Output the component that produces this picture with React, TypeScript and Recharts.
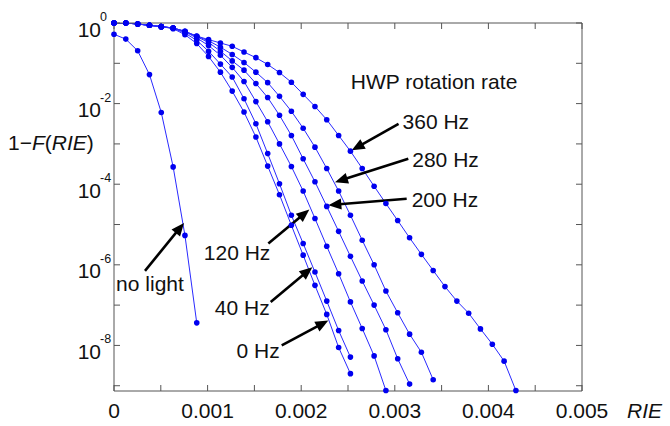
import React from "react";
import { LineChart, Line, XAxis, YAxis, ReferenceLine, ReferenceDot } from "recharts";

// RIE bins shared by every curve
const rie = [
  0, 0.000126, 0.000253, 0.000379, 0.000505, 0.000632, 0.000758, 0.000884, 0.00101, 0.001137,
  0.001263, 0.001389, 0.001516, 0.001642, 0.001768, 0.001895, 0.002021, 0.002147, 0.002273, 0.0024,
  0.002526, 0.002652, 0.002779, 0.002905, 0.003031, 0.003158, 0.003284, 0.00341, 0.003536, 0.003663,
  0.003789, 0.003915, 0.004042, 0.004168, 0.004294,
];

// log10 of 1-F(RIE)
const noLight = [-0.28, -0.4, -0.69, -1.28, -2.22, -3.57, -5.27, -7.44];
const hz0 = [0, 0, -0.025, -0.057, -0.09, -0.14, -0.29, -0.51, -0.83, -1.22, -1.69, -2.21, -2.83, -3.55, -4.26, -5.02, -5.76, -6.51, -7.23, -8.05, -8.7];
const hz40 = [0, 0, -0.025, -0.057, -0.09, -0.13, -0.25, -0.43, -0.7, -1.02, -1.34, -1.88, -2.5, -3.24, -3.99, -4.77, -5.47, -6.18, -6.9, -7.63, -8.29];
const hz120 = [0, 0, -0.025, -0.057, -0.09, -0.125, -0.22, -0.37, -0.56, -0.8, -1.1, -1.45, -1.95, -2.45, -3.0, -3.56, -4.17, -4.85, -5.54, -6.22, -6.92, -7.58, -8.26, -9.12];
const hz200 = [0, 0, -0.025, -0.057, -0.09, -0.124, -0.21, -0.34, -0.48, -0.7, -0.94, -1.17, -1.5, -1.85, -2.29, -2.79, -3.37, -3.94, -4.55, -5.17, -5.79, -6.4, -7.0, -7.61, -8.33, -8.96];
const hz280 = [0, 0, -0.025, -0.057, -0.09, -0.124, -0.206, -0.33, -0.44, -0.6, -0.78, -0.98, -1.22, -1.48, -1.82, -2.19, -2.61, -3.08, -3.61, -4.17, -4.77, -5.39, -6.0, -6.65, -7.19, -7.72, -8.17, -8.85];
const hz360 = [0, 0, -0.025, -0.057, -0.09, -0.124, -0.206, -0.323, -0.412, -0.496, -0.578, -0.72, -0.86, -1.03, -1.23, -1.47, -1.77, -2.07, -2.4, -2.79, -3.18, -3.61, -4.05, -4.48, -4.9, -5.33, -5.74, -6.14, -6.54, -6.9, -7.2, -7.59, -7.97, -8.39, -9.12];

const xTicks = [0, 0.0005, 0.001, 0.0015, 0.002, 0.0025, 0.003, 0.0035, 0.004, 0.0045, 0.005];
const xLabels = ["0", "0.001", "0.002", "0.003", "0.004", "0.005"];
const yTicks = [1, 1e-1, 1e-2, 1e-3, 1e-4, 1e-5, 1e-6, 1e-7, 1e-8, 1e-9];

const series = [
  { key: "noLight", values: noLight },
  { key: "hz0", values: hz0 },
  { key: "hz40", values: hz40 },
  { key: "hz120", values: hz120 },
  { key: "hz200", values: hz200 },
  { key: "hz280", values: hz280 },
  { key: "hz360", values: hz360 },
];

const data = rie.map((x, i) => {
  const row: Record<string, number | undefined> = { rie: x };
  series.forEach((s) => {
    row[s.key] = s.values[i] === undefined ? undefined : 10 ** s.values[i];
  });
  return row;
});

// arrows: tail -> tip in data coords (y as log10), text placed next to tail
const arrows = [
  { text: "360 Hz", from: [0.00304, -2.5], to: [0.00254, -3.16], anchor: "start", dx: 4, dy: 5 },
  { text: "280 Hz", from: [0.003144, -3.37], to: [0.002361, -3.95], anchor: "start", dx: 4, dy: 8 },
  { text: "200 Hz", from: [0.003127, -4.36], to: [0.00229, -4.52], anchor: "start", dx: 5, dy: 8 },
  { text: "120 Hz", from: [0.001649, -5.47], to: [0.002087, -4.63], anchor: "end", dx: 2, dy: 17 },
  { text: "40 Hz", from: [0.001674, -6.92], to: [0.002119, -6.06], anchor: "end", dx: -1, dy: 13 },
  { text: "0 Hz", from: [0.001792, -8.0], to: [0.00229, -7.38], anchor: "end", dx: -2, dy: 13 },
  { text: "no light", from: [0.000331, -6.15], to: [0.000748, -4.96], anchor: "middle", dx: 5, dy: 20 },
];

const FONT = "'Liberation Sans', Arial, Helvetica, sans-serif";
const FRAME = "#555";
const BLUE = "#0000f0";

const arrowShape = (a: any) => (p: any) => {
  const { x1, y1, x2, y2 } = p;
  const vx = x2 - x1;
  const vy = y2 - y1;
  const len = Math.hypot(vx, vy) || 1;
  const ux = vx / len;
  const uy = vy / len;
  const L = 13;
  const W = 5.5;
  const bx = x2 - ux * L;
  const by = y2 - uy * L;
  return (
    <g>
      <line x1={x1} y1={y1} x2={bx + ux * 2} y2={by + uy * 2} stroke="#000" strokeWidth={2.6} />
      <polygon
        points={`${x2},${y2} ${bx - uy * W},${by + ux * W} ${bx + uy * W},${by - ux * W}`}
        fill="#000"
      />
      <text x={x1 + a.dx} y={y1 + a.dy} textAnchor={a.anchor} fontSize={21} fontFamily={FONT} fill="#111">
        {a.text}
      </text>
    </g>
  );
};

const XTick = (props: any) => {
  const { x, payload } = props;
  const idx = Math.round(payload.value * 1000);
  if (Math.abs(payload.value * 1000 - idx) > 1e-6) return <g />;
  return (
    <text x={x} y={418} textAnchor="middle" fontSize={21} fontFamily={FONT} fill="#111">
      {xLabels[idx]}
    </text>
  );
};

const YTick = (props: any) => {
  const { y, payload } = props;
  const e = Math.round(Math.log10(payload.value));
  if (e % 2 !== 0) return <g />;
  return (
    <g fontFamily={FONT} fill="#111">
      <text x={101} y={y + 13.5} textAnchor="end" fontSize={21}>
        10
      </text>
      <text x={100} y={y - 2} textAnchor="start" fontSize={12.5}>
        {e === 0 ? "0" : "-" + Math.abs(e)}
      </text>
    </g>
  );
};

const blank = () => <g />;

const YLabel = () => (
  <text x={8} y={150} fontSize={21} fontFamily={FONT} fill="#111">
    1−<tspan fontStyle="italic">F</tspan>(<tspan fontStyle="italic">RIE</tspan>)
  </text>
);

const XLabel = () => (
  <text x={627} y={418} fontSize={21} fontFamily={FONT} fontStyle="italic" fill="#111">
    RIE
  </text>
);

export default function App() {
  return (
    <div style={{ position: "absolute", left: 0, top: 0 }}>
      <LineChart width={670} height={426} data={data} margin={{ top: 0, right: 0, bottom: 0, left: 0 }}>
        <XAxis
          xAxisId="b"
          dataKey="rie"
          type="number"
          domain={[0, 0.005]}
          ticks={xTicks}
          allowDataOverflow
          height={35}
          tickSize={-6}
          tick={<XTick />}
          stroke={FRAME}
          label={<XLabel />}
        />
        <XAxis
          xAxisId="t"
          orientation="top"
          dataKey="rie"
          type="number"
          domain={[0, 0.005]}
          ticks={xTicks}
          allowDataOverflow
          height={23}
          tickSize={-6}
          tick={blank}
          stroke={FRAME}
        />
        <YAxis
          yAxisId="l"
          scale="log"
          type="number"
          domain={[7.4e-10, 1]}
          ticks={yTicks}
          allowDataOverflow
          width={114}
          tickSize={-6}
          tick={<YTick />}
          stroke={FRAME}
          label={<YLabel />}
        />
        <YAxis
          yAxisId="r"
          orientation="right"
          scale="log"
          type="number"
          domain={[7.4e-10, 1]}
          ticks={yTicks}
          allowDataOverflow
          width={88}
          tickSize={-6}
          tick={blank}
          stroke={FRAME}
        />
        {series.map((s) => (
          <Line
            key={s.key}
            xAxisId="b"
            yAxisId="l"
            dataKey={s.key}
            stroke="#2a2aff"
            strokeWidth={1}
            dot={{ r: 2.8, fill: BLUE, stroke: "none", clipDot: false } as any}
            activeDot={false}
            isAnimationActive={false}
          />
        ))}
        {arrows.map((a) => (
          <ReferenceLine
            key={a.text}
            xAxisId="b"
            yAxisId="l"
            segment={[
              { x: a.from[0], y: 10 ** a.from[1] },
              { x: a.to[0], y: 10 ** a.to[1] },
            ]}
            ifOverflow="visible"
            shape={arrowShape(a)}
          />
        ))}
        <ReferenceDot
          xAxisId="b"
          yAxisId="l"
          x={0.00253}
          y={10 ** -1.643}
          ifOverflow="visible"
          shape={(p: any) => (
            <text x={p.cx} y={p.cy} fontSize={21} fontFamily={FONT} fill="#111">
              HWP rotation rate
            </text>
          )}
        />
      </LineChart>
    </div>
  );
}
